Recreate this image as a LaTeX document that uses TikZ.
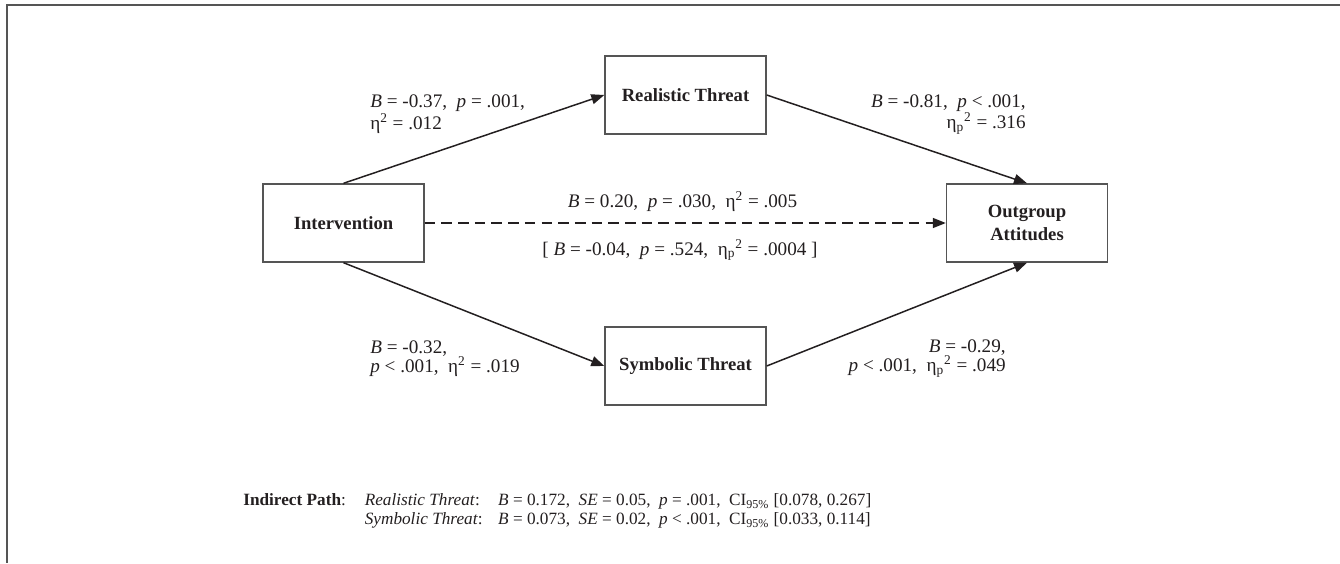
\documentclass[tikz,border=0pt]{standalone}
\usepackage{fontspec}
\setmainfont{Liberation Serif}
\usetikzlibrary{arrows.meta}
\definecolor{ink}{RGB}{35,31,32}
\definecolor{rule}{RGB}{85,85,85}

\begin{document}
\begin{tikzpicture}[
        box/.style={draw=rule,line width=0.8pt,minimum width=3.22cm,minimum height=1.56cm,inner sep=0pt,
            align=center,text=ink,font=\fontsize{10.6}{12.6}\selectfont\bfseries},
        link/.style={draw=ink,line width=0.85pt,-{Triangle[length=2.6mm,width=2mm]}},
        stat/.style={inner sep=0pt,text=ink,font=\fontsize{10.9}{10.9}\selectfont}
    ]
        \useasboundingbox (0,0) rectangle (26.8,-11.26);
        %% Frame
        \draw[rule,line width=1.1pt] (26.8,-0.1) -- (0.14,-0.1) -- (0.14,-11.26);
        %% Variables
        \node[box] (iv) at (6.87,-4.46) {Intervention};
        \node[box] (rt) at (13.71,-1.90) {Realistic Threat};
        \node[box] (st) at (13.71,-7.32) {Symbolic Threat};
        \node[box] (oa) at (20.54,-4.46) {Outgroup\\Attitudes};
        %% Paths
        \foreach \a/\b in {iv.north/rt.west,rt.east/oa.north,iv.south/st.west,st.east/oa.south}
            \draw[link] (\a) -- (\b);
        \draw[link,dash pattern=on 6pt off 3.5pt] (iv) -- (oa);
        %% Coefficients
        \node[stat,anchor=west,align=left] (ivrt) at (7.40,-2.29)
            {\textit{B} = -0.37,\enspace\textit{p} = .001,\\η\textsuperscript{2} = .012};
        \node[stat,anchor=east,align=right] (rtoa) at (20.52,-2.29)
            {\textit{B} = -0.81,\enspace\textit{p} < .001,\\η\textsubscript{p}\textsuperscript{2} = .316};
        \node[stat] (ivoa) at (13.65,-4.03)
            {\textit{B} = 0.20,\enspace\textit{p} = .030,\enspace η\textsuperscript{2} = .005};
        \node[stat] (ivoaadj) at (13.6,-5.0)
            {[ \textit{B} = -0.04,\enspace\textit{p} = .524,\enspace η\textsubscript{p}\textsuperscript{2} = .0004 ]};
        \node[stat,anchor=west,align=left] (ivst) at (7.40,-7.17)
            {\textit{B} = -0.32,\\\textit{p} < .001,\enspace η\textsuperscript{2} = .019};
        \node[stat,anchor=east,align=right] (stoa) at (20.12,-7.17)
            {\textit{B} = -0.29,\\\textit{p} < .001,\enspace η\textsubscript{p}\textsuperscript{2} = .049};
        %% Indirect paths
        \node[anchor=west,inner sep=0pt,text=ink,font=\fontsize{9.8}{10.5}\selectfont] (ind) at (4.86,-10.23)
            {\begin{tabular}{@{}l@{\hspace{1.1em}}l@{\hspace{0.9em}}l@{}}
                \textbf{Indirect Path}: & \textit{Realistic Threat}: & \textit{B} = 0.172,\enspace\textit{SE} = 0.05,\enspace\textit{p} = .001,\enspace CI\textsubscript{95\%} [0.078, 0.267]\\
                & \textit{Symbolic Threat}: & \textit{B} = 0.073,\enspace\textit{SE} = 0.02,\enspace\textit{p} < .001,\enspace CI\textsubscript{95\%} [0.033, 0.114]
            \end{tabular}};
    \end{tikzpicture}
\end{document}
